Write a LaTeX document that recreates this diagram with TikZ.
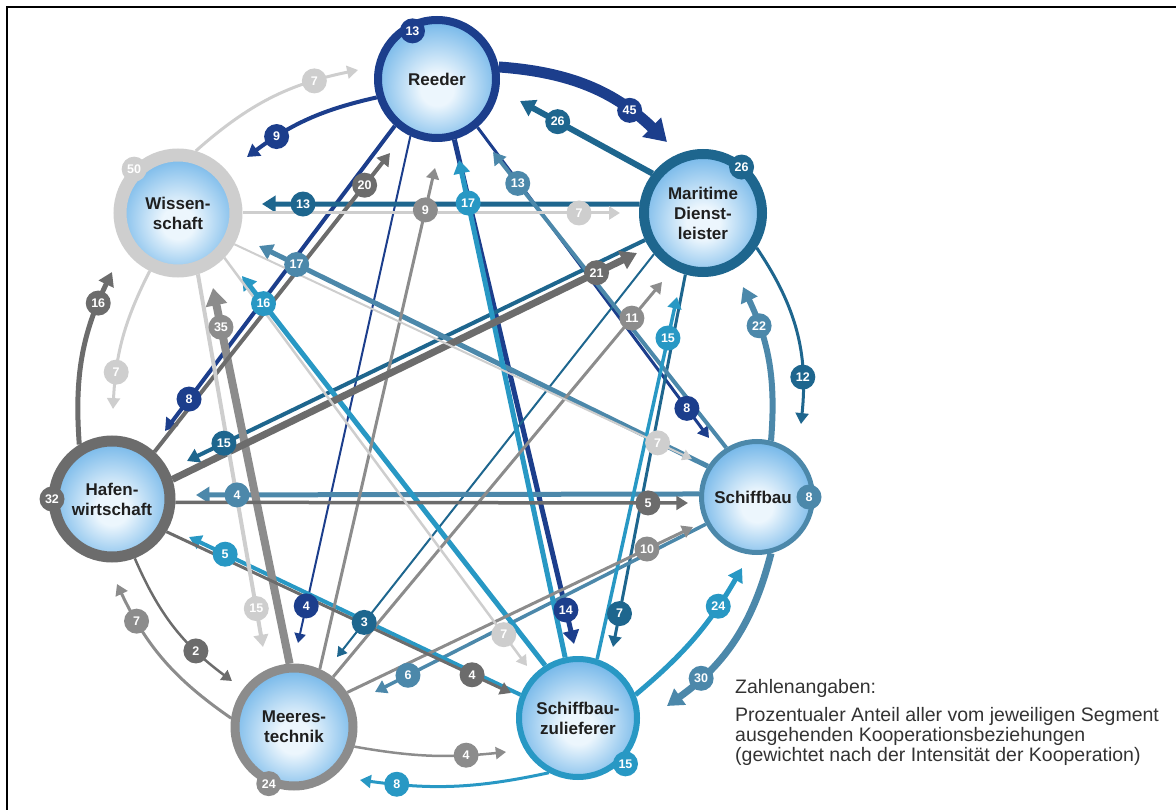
\documentclass[tikz,border=0pt]{standalone}
\usepackage{fontspec}
\setmainfont{Liberation Sans}
\usetikzlibrary{arrows.meta,calc,decorations.markings}

\definecolor{reedc}{RGB}{28,62,140}
\definecolor{mdc}{RGB}{30,102,142}
\definecolor{sbc}{RGB}{76,136,170}
\definecolor{szc}{RGB}{40,152,196}
\definecolor{mtc}{RGB}{140,140,140}
\definecolor{hwc}{RGB}{108,108,108}
\definecolor{wic}{RGB}{206,206,206}
\definecolor{segin}{RGB}{236,246,253}
\definecolor{segout}{RGB}{122,186,234}

\pgfdeclareradialshading{segglow}{\pgfpoint{0bp}{-5bp}}{color(0bp)=(segin); color(7bp)=(segin); color(26bp)=(segout); color(50bp)=(segout)}

\tikzset{
  seg/.style={circle, draw=#1, inner sep=0pt, minimum size=118pt, shading=segglow, align=center, text=black!88, font=\bfseries\fontsize{17}{20}\selectfont},
  badge/.style={circle, fill=#1, inner sep=0pt, minimum size=25pt, text=white, font=\bfseries\fontsize{12.5}{13}\selectfont},
  flow/.style={draw=#1, -{Triangle[length=7pt 1.3, width=8pt 1.6]}},
  legend/.style={align=left, inner sep=0pt, text=black!80, font=\fontsize{19.5}{20}\selectfont},
}

% source/anchor/tip x/tip y/badge distance/value/colour/width/bend
\def\flows{
reeder/11/667/-142/49/45/reedc/11/20,
reeder/197/247/-157/36/9/reedc/4/-12,
reeder/228/165/-431/40/8/reedc/4/0,
reeder/245/298/-643/38/4/reedc/2/0,
reeder/286/574/-644/35/14/reedc/5/0,
reeder/310/709/-438/37/8/reedc/3/0,
mdl/142/520/-101/43/26/mdc/6/0,
mdl/172/262/-204/41/13/mdc/5/0,
mdl/205/187/-461/41/15/mdc/4/0,
mdl/220/337/-657/44/3/mdc/2/0,
mdl/254/613/-647/34/7/mdc/3/0,
mdl/327/801/-424/47/12/mdc/3/20,
sbau/76/743/-287/42/22/sbc/6/-15,
sbau/148/259/-246/42/17/sbc/5/0,
sbau/122/493/-152/40/13/sbc/4/0,
sbau/177/196/-495/41/4/sbc/5/0,
sbau/208/375/-692/37/6/sbc/3.5/0,
sbau/284/667/-706/44/30/sbc/7/20,
szul/102/459/-160/44/17/szc/5/0,
szul/72/677/-297/42/15/szc/3.5/0,
szul/22/742/-568/45/24/szc/5/-10,
szul/122/242/-276/35/16/szc/5/0,
szul/158/189/-537/40/5/szc/4/0,
szul/242/360/-780/37/8/szc/3/10,
mtec/94/213/-288/40/35/mtc/8/0,
mtec/66/435/-168/43/9/mtc/3/0,
mtec/52/662/-282/47/11/mtc/3/0,
mtec/33/693/-527/51/10/mtc/3/0,
mtec/342/506/-752/40/4/mtc/2.5/-8,
mtec/172/117/-584/42/7/mtc/3/15,
hafen/121/112/-272/34/16/hwc/5/15,
hafen/48/390/-153/41/20/hwc/4/0,
hafen/18/637/-253/45/21/hwc/7/0,
hafen/357/688/-503/40/5/hwc/3.5/0,
hafen/329/511/-693/43/4/hwc/3/0,
hafen/291/232/-681/47/2/hwc/2.5/-15,
wiss/74/358/-70/45/7/wic/3/15,
wiss/0/620/-213/41/7/wic/3/0,
wiss/331/692/-459/38/7/wic/2/0,
wiss/316/527/-666/39/7/wic/2.5/0,
wiss/288/263/-647/39/15/wic/4/0,
wiss/244/113/-409/37/7/wic/3/-12}

\begin{document}
\begin{tikzpicture}[x=1pt,y=1pt]
\useasboundingbox (0,0) rectangle (1176,-810);
\draw[line width=1.8pt] (7,-810) -- (7,-7) -- (1176,-7);

% the seven segments
\node[seg=reedc, line width=8pt] (reeder) at (437,-79) {Reeder};
\node[seg=mdc, line width=10pt] (mdl) at (703,-213) {Maritime\\Dienst-\\leister};
\node[seg=sbc, line width=5pt, minimum size=111pt] (sbau) at (757,-497) {Schiffbau\hspace*{8pt}};
\node[seg=szc, line width=6pt] (szul) at (578,-718) {Schiffbau-\\zulieferer};
\node[seg=mtc, line width=9pt] (mtec) at (294,-727) {Meeres-\\technik};
\node[seg=hwc, line width=11pt, minimum size=116pt] (hafen) at (112,-499) {Hafen-\\wirtschaft};
\node[seg=wic, line width=13pt, minimum size=116pt] (wiss) at (178,-213) {Wissen-\\schaft};

% cooperation inside the own segment
\node[badge=reedc] (self-reeder) at ($(reeder)+(117:54)$) {13};
\node[badge=mdc] (self-mdl) at ($(mdl)+(50:60)$) {26};
\node[badge=sbc] (self-sbau) at ($(sbau)+(0:52)$) {8};
\node[badge=szc] (self-szul) at ($(szul)+(-44:66)$) {15};
\node[badge=mtc] (self-mtec) at ($(mtec)+(-114:62)$) {24};
\node[badge=hwc] (self-hafen) at ($(hafen)+(180:60)$) {32};
\node[badge=wic] (self-wiss) at ($(wiss)+(135:62)$) {50};

% cooperation between segments
\foreach \s/\a/\tx/\ty/\d/\v/\c/\w/\b in \flows {
  \coordinate (tip) at (\tx,\ty);
  \draw[flow=\c, line width=\w pt] (\s.\a) to[bend left=\b] (tip);
}
\foreach \s/\a/\tx/\ty/\d/\v/\c/\w/\b in \flows {
  \coordinate (tip) at (\tx,\ty);
  \path[decorate, decoration={markings, mark=at position -\d pt with {\node[badge=\c] (n-\s-\a) {\v};}}] (\s.\a) to[bend left=\b] (tip);
}

\node[legend, anchor=north west] (note) at (735,-679) {Zahlenangaben:\\[8pt]Prozentualer Anteil aller vom jeweiligen Segment\\ausgehenden Kooperationsbeziehungen\\(gewichtet nach der Intensität der Kooperation)};
\end{tikzpicture}
\end{document}
